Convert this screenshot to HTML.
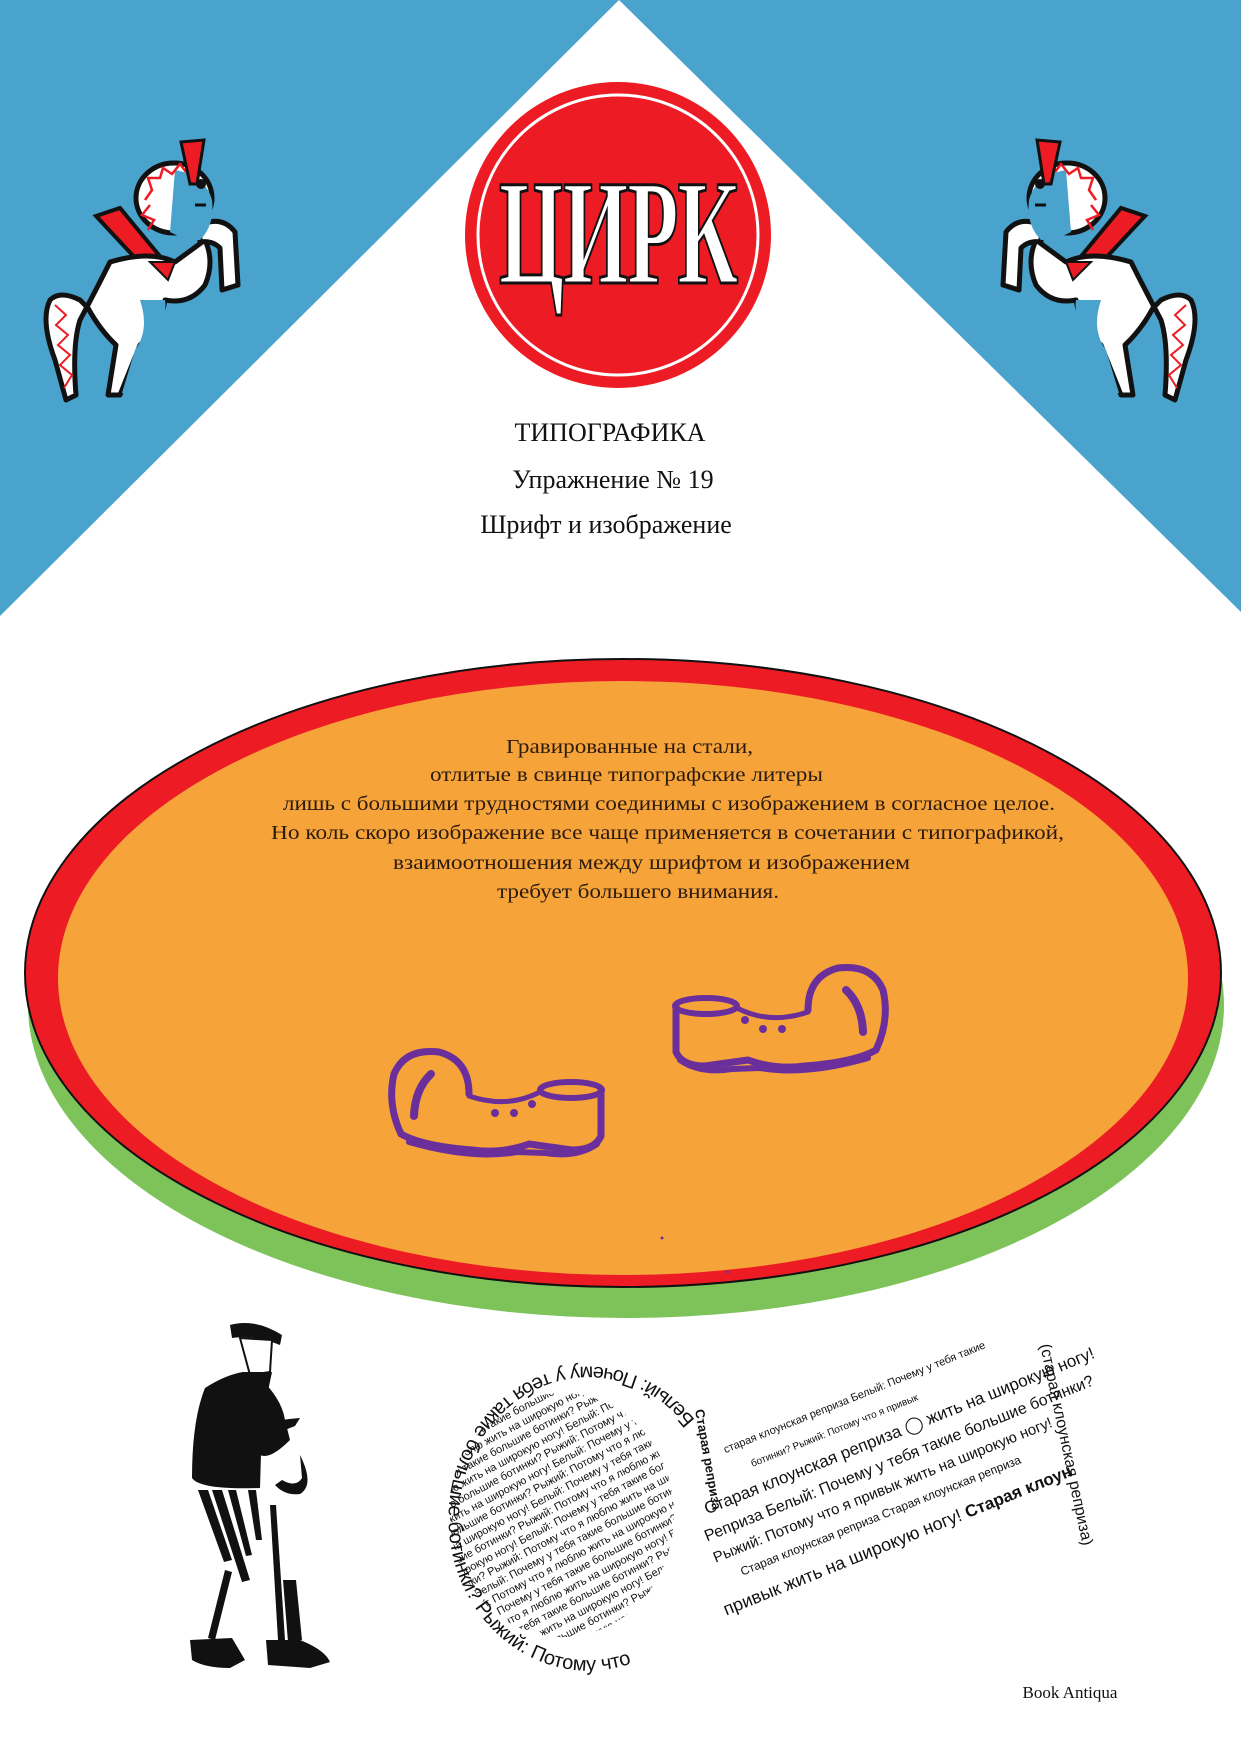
<!DOCTYPE html>
<html><head><meta charset="utf-8">
<style>
html,body{margin:0;padding:0;background:#fff}
body{width:1241px;height:1754px;overflow:hidden;position:relative}
svg{position:absolute;left:0;top:0}
.serif{font-family:"Liberation Serif","Noto Serif CJK SC",serif}
.sans{font-family:"Liberation Sans","DejaVu Sans",sans-serif}
</style></head><body>
<svg width="1241" height="1754" viewBox="0 0 1241 1754" xmlns="http://www.w3.org/2000/svg">
<defs>
<g id="horse">
  <path d="M96,216 L120,208 L168,266 L152,276 Z" fill="#ed1c24" stroke="#111" stroke-width="4"/>
  <path d="M110,262 Q150,250 175,262 L205,240 Q215,262 205,285 Q190,305 165,300 Q160,330 140,345 L120,395 L108,395 L116,345 Q100,330 88,308 L80,300 Q60,290 50,300 Q40,320 55,360 L66,400 L76,395 Q72,345 80,320 Q96,290 110,262 Z" fill="#fff" stroke="#111" stroke-width="5" stroke-linejoin="round"/>
  <path d="M140,300 Q150,330 135,350 L122,393 L132,395 L150,350 Q168,320 165,300 Z" fill="#4aa3cc"/>
  <path d="M55,305 L66,315 L56,325 L68,335 L58,345 L70,355 L60,365 L72,375 L64,388" fill="none" stroke="#ed1c24" stroke-width="2"/>
  <path d="M150,262 L175,262 L168,280 Z" fill="#ed1c24" stroke="#111" stroke-width="2"/>
  <path d="M200,225 Q222,215 235,232 L238,285 L222,290 L220,248 Q212,240 200,242 Z" fill="#fff" stroke="#111" stroke-width="5" stroke-linejoin="round"/>
  <ellipse cx="174" cy="198" rx="38" ry="35" fill="#fff" stroke="#111" stroke-width="5"/>
  <path d="M175,170 Q205,175 212,200 Q215,225 200,240 Q185,240 170,232 Z" fill="#4aa3cc"/>
  <path d="M145,200 L152,190 L148,178 L160,178 L163,168 L172,174 L180,164 L186,172" fill="none" stroke="#ed1c24" stroke-width="2.5"/>
  <path d="M150,205 L142,215 L154,220 L148,230" fill="none" stroke="#ed1c24" stroke-width="2.5"/>
  <path d="M181,142 L204,140 L197,184 L190,184 Z" fill="#ed1c24" stroke="#111" stroke-width="3"/>
  <circle cx="201" cy="184" r="5" fill="#111"/>
  <path d="M195,205 L206,205" stroke="#111" stroke-width="3"/>
</g>
<g id="shoe" fill="none" stroke="#6a2f9a" stroke-linecap="round" stroke-linejoin="round">
  <ellipse cx="706" cy="1006" rx="31" ry="8" stroke-width="6"/>
  <path d="M676,1005 L676,1052 Q682,1066 705,1066 L748,1060 Q775,1070 805,1066 Q855,1062 876,1050 Q890,1020 883,990 Q872,964 838,968 Q808,976 808,1010" stroke-width="7"/>
  <path d="M737,1008 Q770,1025 808,1012" stroke-width="5"/>
  <path d="M680,1060 Q700,1074 732,1069 L760,1068 Q805,1076 868,1058" stroke-width="6"/>
  <path d="M846,990 Q862,1005 863,1032" stroke-width="8"/>
  <circle cx="745" cy="1020" r="4" fill="#6a2f9a" stroke="none"/>
  <circle cx="763" cy="1029" r="4" fill="#6a2f9a" stroke="none"/>
  <circle cx="782" cy="1029" r="4" fill="#6a2f9a" stroke="none"/>
</g>
<clipPath id="bulb"><ellipse cx="562" cy="1515" rx="112" ry="122"/></clipPath>
<path id="ring" d="M695,1420 A140,152 0 1 0 640,1660"/>
</defs>

<rect width="1241" height="1754" fill="#fff"/>
<polygon points="0,0 619,0 0,616" fill="#4aa3cc"/>
<polygon points="1241,0 619,0 1241,612" fill="#4aa3cc"/>

<use href="#horse"/>
<use href="#horse" transform="translate(1241,0) scale(-1,1)"/>

<circle cx="618" cy="235" r="153" fill="#ed1c24"/>
<circle cx="618" cy="235" r="140" fill="none" stroke="#fff" stroke-width="3"/>
<text x="618" y="283" text-anchor="middle" class="serif" font-size="150" font-weight="bold" fill="#fff" stroke="#111" stroke-width="3" transform="translate(618,0) scale(0.56,1) translate(-618,0)" letter-spacing="-2">ЦИРК</text>

<text x="610" y="441" text-anchor="middle" class="serif" font-size="26" fill="#111">ТИПОГРАФИКА</text>
<text x="613" y="488" text-anchor="middle" class="serif" font-size="26" fill="#111">Упражнение № 19</text>
<text x="606" y="533" text-anchor="middle" class="serif" font-size="26" fill="#111">Шрифт и изображение</text>

<ellipse cx="626" cy="1005" rx="598" ry="313" fill="#7dc35a"/>
<ellipse cx="623" cy="973" rx="598" ry="314" fill="#ed1c24" stroke="#111" stroke-width="2"/>
<ellipse cx="623" cy="978" rx="565" ry="297" fill="#f6a43a"/>

<g class="serif" font-size="20" fill="#2a1a10">
<text x="506" y="753" textLength="247" lengthAdjust="spacingAndGlyphs">Гравированные на стали,</text>
<text x="430" y="781" textLength="393" lengthAdjust="spacingAndGlyphs">отлитые в свинце типографские литеры</text>
<text x="283" y="810" textLength="772" lengthAdjust="spacingAndGlyphs">лишь с большими трудностями соединимы с изображением в согласное целое.</text>
<text x="271" y="839" textLength="793" lengthAdjust="spacingAndGlyphs">Но коль скоро изображение все чаще применяется в сочетании с типографикой,</text>
<text x="393" y="869" textLength="517" lengthAdjust="spacingAndGlyphs">взаимоотношения между шрифтом и изображением</text>
<text x="497" y="898" textLength="282" lengthAdjust="spacingAndGlyphs">требует большего внимания.</text>
</g>
<circle cx="662" cy="1238" r="1.5" fill="#6a2f9a"/>
<circle cx="728" cy="1272" r="1.5" fill="#6a2f9a"/>

<use href="#shoe"/>
<use href="#shoe" transform="translate(1277,84) scale(-1,1)"/>

<g fill="#111">
  <path d="M230,1325 Q255,1318 282,1335 L280,1345 Q255,1335 232,1338 Z"/>
  <path d="M240,1338 L272,1340 L270,1372 L250,1375 Z" fill="#fff" stroke="#111" stroke-width="2"/>
  <path d="M243,1372 Q225,1375 205,1388 Q192,1420 192,1478 Q200,1490 260,1488 L262,1420 L272,1372 Z"/>
  <path d="M262,1380 Q282,1400 285,1420 L290,1440 Q270,1460 260,1455 Z"/>
  <path d="M240,1430 Q270,1420 300,1418 L295,1426 Q270,1436 245,1445 Z"/>
  <path d="M300,1455 Q315,1485 300,1494 Q285,1496 275,1485 L282,1480 Q296,1488 302,1478 Z"/>
  <path d="M198,1490 L208,1490 L232,1560 L224,1562 Z"/>
  <path d="M212,1490 L222,1490 L250,1580 L242,1582 Z"/>
  <path d="M228,1490 L236,1490 L252,1555 L246,1556 Z"/>
  <path d="M248,1490 L256,1490 L262,1540 L256,1540 Z"/>
  <path d="M270,1505 L276,1505 L285,1640 L278,1640 Z"/>
  <path d="M283,1580 L296,1580 L302,1640 L288,1642 Z"/>
  <path d="M225,1570 L232,1572 L215,1640 L208,1638 Z"/>
  <path d="M190,1640 L232,1638 L245,1660 L230,1668 Q205,1668 192,1660 Z"/>
  <path d="M266,1640 L300,1640 Q325,1650 330,1662 L310,1668 L268,1665 Z"/>
</g>

<g class="sans" fill="#111">
  <g clip-path="url(#bulb)" font-size="11">
    <g transform="rotate(-28 562 1515)">
      <text x="420" y="1405">Белый: Почему у тебя такие большие ботинки? Рыжий:</text>
      <text x="420" y="1418">Потому что я люблю жить на широкую ногу! Белый:</text>
      <text x="420" y="1431">Почему у тебя такие большие ботинки? Рыжий: Потому</text>
      <text x="420" y="1444">что я люблю жить на широкую ногу! Белый: Почему у</text>
      <text x="420" y="1457">тебя такие большие ботинки? Рыжий: Потому что я</text>
      <text x="420" y="1470">люблю жить на широкую ногу! Белый: Почему у тебя</text>
      <text x="420" y="1483">такие большие ботинки? Рыжий: Потому что я люблю</text>
      <text x="420" y="1496">жить на широкую ногу! Белый: Почему у тебя такие</text>
      <text x="420" y="1509">большие ботинки? Рыжий: Потому что я люблю жить</text>
      <text x="420" y="1522">на широкую ногу! Белый: Почему у тебя такие большие</text>
      <text x="420" y="1535">ботинки? Рыжий: Потому что я люблю жить на широкую</text>
      <text x="420" y="1548">ногу! Белый: Почему у тебя такие большие ботинки?</text>
      <text x="420" y="1561">Рыжий: Потому что я люблю жить на широкую ногу!</text>
      <text x="420" y="1574">Белый: Почему у тебя такие большие ботинки? Рыжий:</text>
      <text x="420" y="1587">Потому что я люблю жить на широкую ногу! Белый:</text>
      <text x="420" y="1600">Почему у тебя такие большие ботинки? Рыжий: Потому</text>
      <text x="420" y="1613">что я люблю жить на широкую ногу! Белый: Почему</text>
      <text x="420" y="1626">у тебя такие большие ботинки? Рыжий: Потому что</text>
      <text x="420" y="1639">я люблю жить на широкую ногу!</text>
    </g>
  </g>
  <text font-size="20"><textPath href="#ring">Белый: Почему у тебя такие большие ботинки? Рыжий: Потому что я</textPath></text>
  <g transform="translate(15,-12) rotate(-22 870 1460)">
    <text x="720" y="1405" font-size="11">старая клоунская реприза  Белый: Почему у тебя такие</text>
    <text x="740" y="1428" font-size="10">ботинки? Рыжий: Потому что я привык</text>
    <text x="680" y="1455" font-size="17">Старая клоунская реприза  ◯  жить на широкую ногу!</text>
    <text x="670" y="1480" font-size="16">Репризa  Белый: Почему у тебя такие большие ботинки?</text>
    <text x="670" y="1503" font-size="15">Рыжий: Потому что я привык жить на широкую ногу!</text>
    <text x="690" y="1525" font-size="12">Старая клоунская реприза Старая клоунская реприза</text>
    <text x="660" y="1556" font-size="18">привык жить на широкую ногу!  <tspan font-weight="bold" font-size="17">Старая клоун</tspan></text>
  </g>
  <text x="1040" y="1345" font-size="16" transform="rotate(78 1040 1345)">(старая клоунская реприза)</text>
  <text x="695" y="1410" font-size="13" font-weight="bold" transform="rotate(80 695 1410)">Старая реприза</text>
</g>

<text x="1070" y="1698" text-anchor="middle" class="serif" font-size="17" fill="#111">Book Antiqua</text>
</svg>
</body></html>
